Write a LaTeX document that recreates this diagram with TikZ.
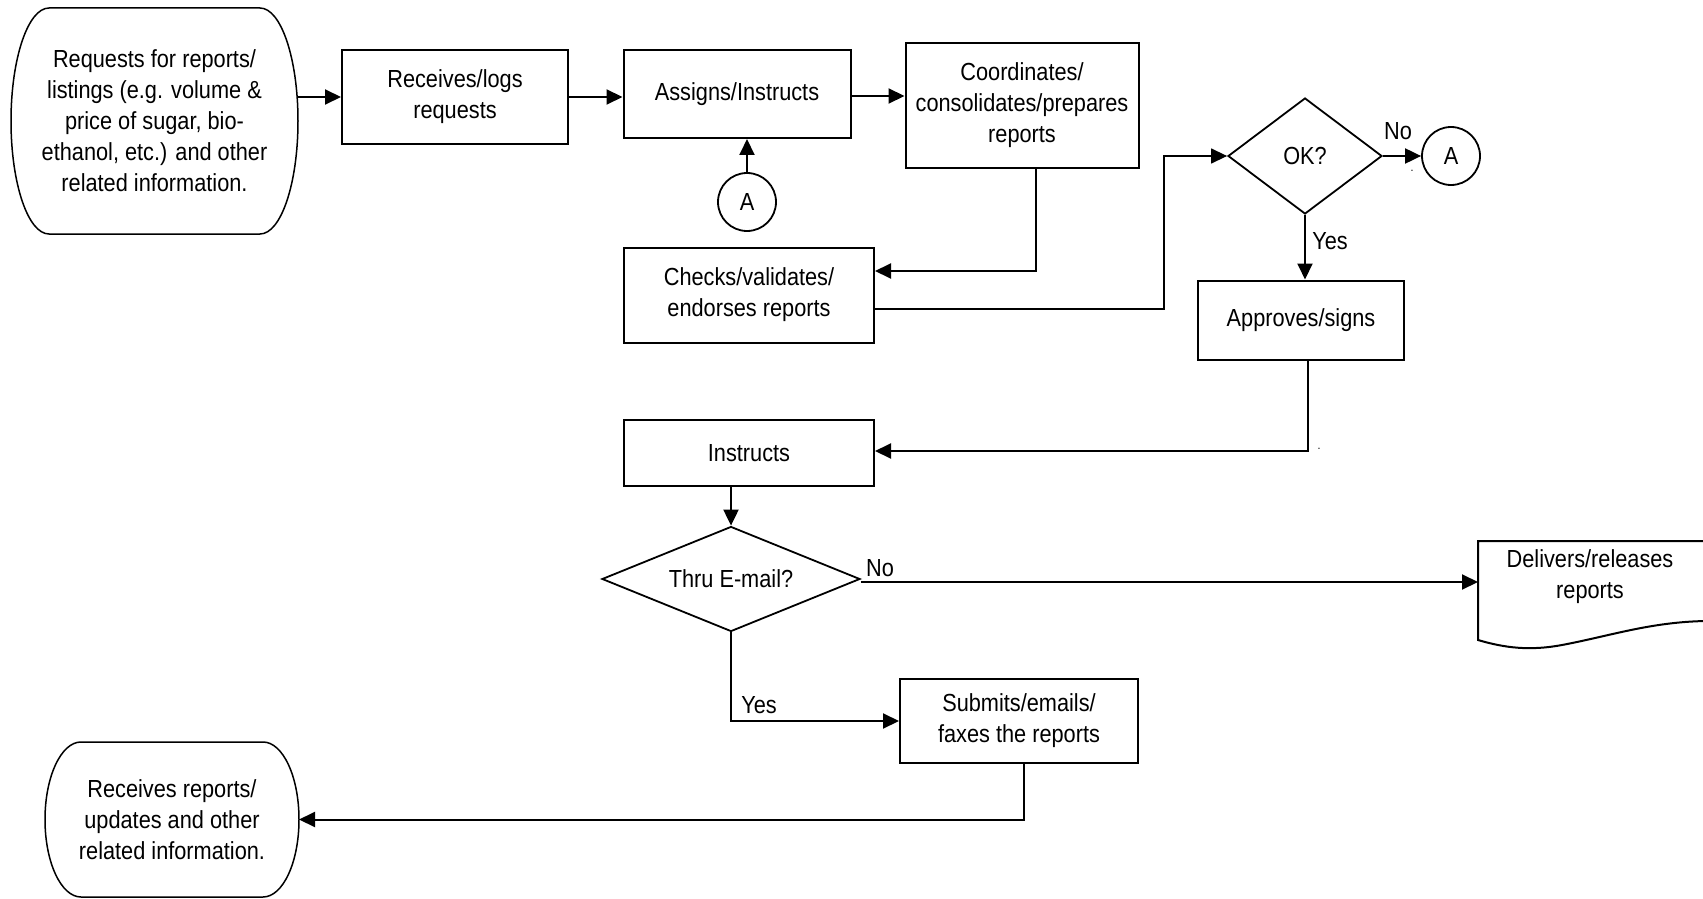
\documentclass[tikz,border=0pt]{standalone}
\usepackage{fontspec}
\setmainfont[FakeStretch=0.88]{Liberation Sans}
\usetikzlibrary{arrows.meta, shapes.geometric}

% outline of a terminal: node, corner x radius, half height
\newcommand{\termedge}[3]{%
  \draw[termline] ([xshift=#2]#1.north west) -- ([xshift=-#2]#1.north east)
    arc[start angle=90, end angle=-90, x radius=#2, y radius=#3]
    -- ([xshift=#2]#1.south west)
    arc[start angle=270, end angle=90, x radius=#2, y radius=#3] -- cycle;
}

\begin{document}
\begin{tikzpicture}[x=0.5pt, y=0.5pt,
  every node/.style={font=\fontsize{12.35}{15.5}\selectfont},
  box/.style={draw, line width=1pt, align=center, inner sep=2pt},
  term/.style={align=center, outer sep=0pt, inner sep=0pt},
  termline/.style={line width=0.75pt},
  decide/.style={draw, diamond, line width=0.9pt, inner sep=0pt},
  conn/.style={draw, circle, line width=0.9pt, minimum size=29pt, inner sep=0pt},
  flow/.style={line width=1pt, -{Triangle[length=8pt, width=7.5pt]}},
  thinflow/.style={line width=0.7pt, -{Triangle[length=8pt, width=7.5pt]}},
  tiny/.style={font=\fontsize{6}{7}\selectfont, inner sep=0pt}]

  \useasboundingbox (0,0) rectangle (1703,-899);

  % top row
  \node[term, minimum width=143.5pt, minimum height=113pt] (start) at (154.5,-121)
    {Requests for reports/\\listings (e.g. volume \&\\price of sugar, bio-\\ethanol, etc.) and other\\related information.};
  \termedge{start}{19pt}{56.5pt}
  \node[box, minimum width=113pt, minimum height=47pt] (recv) at (455,-97) {Receives/logs\\requests};
  \node[box, minimum width=113.5pt, minimum height=44pt] (assign) at (737,-94) {Assigns/Instructs};
  \node[box, minimum width=116.5pt, minimum height=62.5pt] (coord) at (1022,-105.5)
    {Coordinates/\\consolidates/prepares\\reports};
  \node[conn] (backA) at (747,-202) {A};
  \node[box, minimum width=125pt, minimum height=47.5pt] (checks) at (749,-295) {Checks/validates/\\endorses reports};

  % approval
  \node[decide, aspect=1.33, minimum width=77pt, minimum height=58pt] (ok) at (1305,-156) {OK?};
  \node[conn] (toA) at (1451,-156) {A};
  \node[box, minimum width=103pt, minimum height=39.5pt] (approve) at (1301,-320) {Approves/signs};
  \node (noOk) at (1398,-131) {No};
  \node (yesOk) at (1330,-241) {Yes};
  \node[tiny] (dotA) at (1412,-171) {.};
  \node[tiny] (dotB) at (1319,-449) {.};

  % release
  \node[box, minimum width=125pt, minimum height=33pt] (instr) at (749,-453) {Instructs};
  \node[decide, aspect=2.46, minimum width=129pt, minimum height=52.5pt] (thru) at (731,-579) {Thru E-mail?};
  \node (noMail) at (880,-568) {No};
  \node (yesMail) at (759,-705) {Yes};
  \node[align=center] (deliver) at (1590,-577) {Delivers/releases\\reports};
  \coordinate (deliverIn) at (1478,-582);
  \draw[line width=1pt] (1706,-541) -- (1478,-541) -- (1478,-640)
    .. controls (1505,-648) and (1530,-651) .. (1562,-645)
    .. controls (1610,-636) and (1650,-622) .. (1706,-621);
  \node[box, minimum width=119pt, minimum height=42pt] (submit) at (1019,-721) {Submits/emails/\\faxes the reports};
  \node[term, minimum width=127pt, minimum height=77.5pt] (finish) at (172,-819.5)
    {Receives reports/\\updates and other\\related information.};
  \termedge{finish}{18pt}{38.75pt}

  % connectors
  \draw[flow] (recv.west -| start.east) -- (recv.west);
  \draw[flow] (recv.east) -- (recv.east -| assign.west);
  \draw[flow] ([yshift=-1pt]assign.east) -- ([yshift=-1pt]assign.east -| coord.west);
  \draw[flow] (backA.north) -- (backA.north |- assign.south);
  \draw[flow] ([xshift=7pt]coord.south) |- ([yshift=12pt]checks.east);
  \draw[thinflow] ([yshift=-7pt]checks.east) -- ++(289,0) |- (ok.west);
  \draw[flow] (ok.east) -- (toA.west);
  \draw[flow] (ok.south) -- (ok.south |- approve.north);
  \draw[flow] ([xshift=3.5pt]approve.south) |- ([yshift=1pt]instr.east);
  \draw[flow] (thru.north |- instr.south) -- (thru.north);
  \draw[flow] ([yshift=-1.5pt]thru.east) -- (deliverIn);
  \draw[flow] (thru.south) |- (submit.west);
  \draw[flow] ([xshift=2.5pt]submit.south) |- (finish.east);
\end{tikzpicture}
\end{document}
